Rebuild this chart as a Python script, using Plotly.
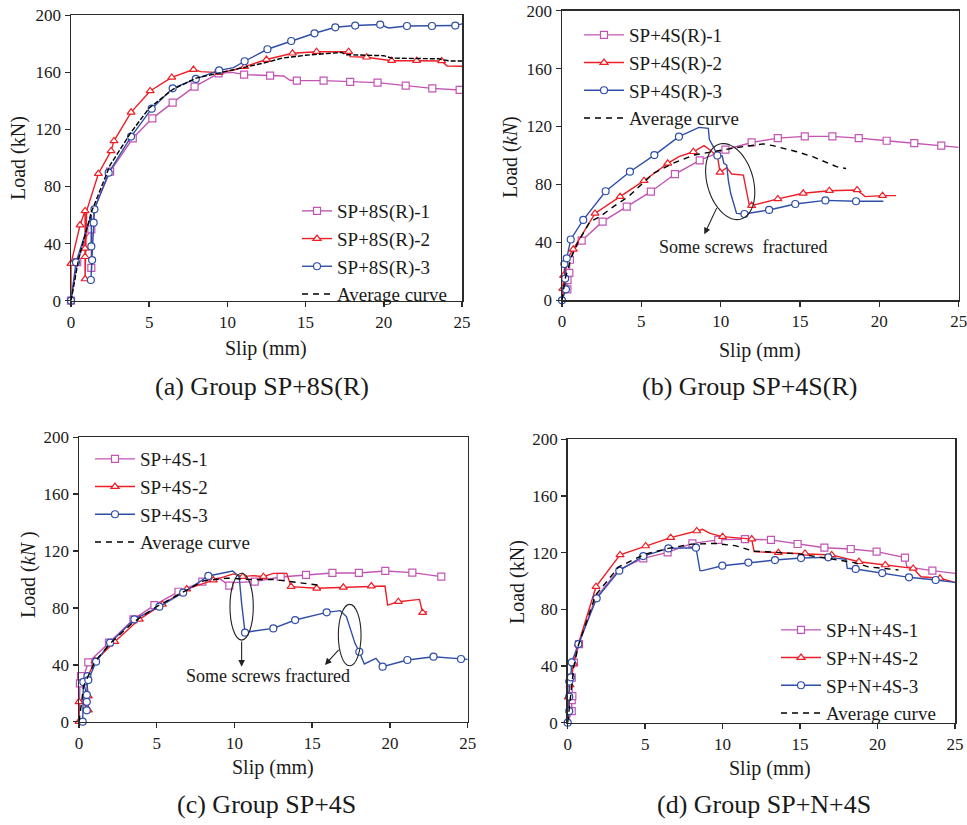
import numpy as np
import plotly.graph_objects as go

# ---------------- DATA ----------------
# Panel (a) Group SP+8S(R)
a1_x = [0, 0.4, 1.0, 1.3, 1.3, 1.35, 1.5, 2.5, 3.95, 5.2, 6.5, 7.9, 9.43, 10.3, 11.07, 12.73, 13.6, 14.0, 14.44, 16.15, 17.85, 19.6, 21.4, 23.1, 24.85]
a1_y = [0, 27, 45, 50, 23, 50, 65, 90.4, 113.8, 127.8, 138.8, 150, 159.3, 160, 158.4, 157.7, 157.5, 154.5, 154.2, 154.2, 153.3, 152.8, 150.7, 148.8, 147.7]
a2_x = [0, 0, 0.58, 0.9, 0.9, 0.9, 0.9, 0.95, 1.0, 1.75, 2.56, 2.75, 3.84, 5.06, 6.44, 7.83, 8.3, 9.47, 10.4, 11.1, 12.5, 14.16, 15.7, 17.75, 17.85, 18.9, 20.5, 22.1, 23.7, 24.04, 25]
a2_y = [0, 26, 53, 62.9, 36.7, 30.8, 15.2, 40, 63, 89, 105, 112, 132, 147, 156.5, 162, 160.5, 159.8, 161.7, 164, 169, 173.4, 174.5, 174.5, 171, 170.6, 168.2, 168.2, 168, 164.5, 164.3]
a3_x = [0, 0.32, 1.0, 1.3, 1.3, 1.35, 1.27, 1.4, 1.45, 1.5, 2.41, 3.84, 5.16, 6.5, 7.98, 9.47, 10.39, 11.1, 12.56, 14.08, 15.57, 16.9, 18.17, 19.77, 20.3, 21.48, 23.08, 24.57, 25]
a3_y = [0, 26.9, 50, 60, 38, 28.5, 14.5, 40, 54.7, 64, 89.7, 115, 134.6, 148.8, 155.4, 161.4, 163.3, 167.8, 176.2, 182, 187.4, 191.6, 192.8, 193.5, 191.1, 192.5, 192.5, 192.8, 194]
aavg_x = [0, 0.5, 1.0, 1.3, 2.5, 3.84, 5, 6.5, 8, 10, 11, 12.5, 13.5, 15, 17.3, 17.6, 20, 20.5, 23.5, 24.2, 25]
aavg_y = [0, 30, 50, 62, 95, 118, 135, 148, 156, 161, 163, 167, 170, 172, 174, 172.4, 171.7, 170, 169.5, 168, 168]

# Panel (b) Group SP+4S(R)
b1_x = [0, 0.2, 0.34, 0.35, 0.46, 0.5, 0.8, 1.24, 2.56, 4.08, 5.6, 7.12, 8.68, 10.3, 11.95, 13.6, 15.3, 17.04, 18.7, 20.46, 22.2, 23.9, 25]
b1_y = [0, 10, 7.6, 14, 19, 28, 36, 41.2, 54.3, 64.7, 75, 87.2, 96.7, 104, 109, 112, 113.2, 113.2, 112, 110.2, 108.6, 106.8, 105.6]
b2_x = [0, 0.05, 0.1, 0.2, 0.15, 0.3, 0.71, 2.08, 3.66, 5.17, 6.66, 7.37, 8.28, 8.95, 9.33, 9.8, 9.96, 10.38, 10.7, 11.43, 11.8, 11.95, 13.6, 15.2, 16.85, 18.6, 19.1, 20.2, 21.05]
b2_y = [0, 8, 17, 25, 10, 28, 35.2, 60, 71.6, 82.6, 94.6, 99.2, 102.6, 106.8, 103.8, 99.2, 88.4, 91.6, 87.2, 86.5, 65.8, 65.4, 70, 73.9, 75.7, 76.2, 71.6, 72.3, 72.3]
b3_x = [0, 0.25, 0.2, 0.15, 0.3, 0.55, 1.34, 2.75, 4.28, 5.82, 7.37, 8.63, 9.22, 9.29, 9.54, 9.79, 10.1, 10.2, 10.38, 10.48, 10.63, 11.0, 11.5, 13.05, 14.7, 16.6, 18.53, 20.25]
b3_y = [0, 7.6, 15, 25, 29, 42, 55.5, 75.3, 88.8, 100.3, 113, 119.4, 118.8, 111, 106, 100, 99.7, 94.6, 93.4, 83, 73.9, 60, 59.6, 62.4, 66.5, 69, 68.4, 68.4]
bavg_x = [0, 0.2, 0.6, 1.0, 1.76, 2.4, 3.24, 4.18, 5.76, 7.0, 8.3, 9.5, 11, 12.7, 13.3, 14.8, 15.8, 17.3, 17.9]
bavg_y = [0, 15, 30, 40, 54.3, 57.8, 64.7, 71.6, 87.7, 94.6, 100.3, 102.6, 105.5, 108, 106.8, 102.6, 99.2, 92.3, 91]

# Panel (c) Group SP+4S
c1_x = [0, 0.06, 0.13, 0.2, 0.3, 0.6, 1.93, 3.5, 4.85, 6.4, 7.93, 9.0, 9.67, 9.93, 11.3, 12.97, 14.6, 16.3, 18.0, 19.7, 21.44, 23.3]
c1_y = [0, 27, 32, 25, 32, 41.7, 55.6, 72, 82, 91.4, 98.5, 101, 95.7, 97.8, 98.5, 101.8, 103.2, 104.6, 104.6, 106, 104.8, 102]
c2_x = [0, 0, 0.13, 0.6, 0.6, 0.5, 0.7, 1.03, 2.3, 3.88, 5.36, 6.93, 8.64, 9.93, 10.53, 11.2, 11.86, 12.5, 13.36, 13.64, 15.29, 17.0, 18.8, 19.68, 19.85, 20.54, 21.9, 22.1, 22.4]
c2_y = [0, 14, 15, 8.2, 18, 28, 35, 42.7, 56.3, 72, 82.5, 93.3, 99.6, 103.9, 102, 102.7, 102, 104.3, 104.3, 95, 93.8, 94.5, 95.4, 95.4, 82, 84.4, 86, 76.7, 77.4]
c3_x = [0.24, 0.28, 0.5, 0.5, 0.5, 0.54, 0.6, 1.1, 2.0, 3.56, 5.17, 6.7, 8.32, 9.07, 9.88, 10.18, 10.3, 10.46, 10.68, 10.96, 12.5, 13.9, 15.93, 16.8, 17.2, 17.75, 18.03, 18.35, 19.1, 19.53, 21.12, 22.8, 24.57, 25]
c3_y = [0, 28, 18.8, 14, 8, 32, 29.3, 42.2, 55.6, 72, 80.9, 90.7, 102.5, 104.3, 106, 103.2, 102, 83.2, 62.6, 63.3, 65.6, 71.5, 76.9, 78.1, 73.9, 55.1, 49.2, 40.6, 44.5, 38.7, 43.4, 45.7, 44.1, 43.8]
cavg_x = [0, 0.3, 1, 2, 3.5, 5, 6.5, 8, 9.5, 11, 12.5, 14.86, 15.5]
cavg_y = [0, 25, 42, 55, 70, 81, 90, 99, 101, 100, 100, 96.8, 95.9]

# Panel (d) Group SP+N+4S
d1_x = [0, 0.26, 0.26, 0.3, 0.26, 0.4, 0.73, 1.8, 3.3, 4.88, 6.45, 8.05, 9.72, 11.44, 13.12, 14.84, 16.57, 18.27, 19.94, 21.77, 21.9, 23.54, 25]
d1_y = [0, 8.2, 16, 18.8, 31.8, 42.4, 55.5, 88, 108, 116, 120.2, 126.6, 129, 129.6, 129, 126.1, 123.5, 122.6, 120.7, 116.5, 110, 107.3, 105.4]
d2_x = [0, 0.04, 0.15, 0.37, 0.69, 1.83, 3.38, 5.03, 6.65, 8.33, 8.7, 9.19, 10.0, 11.34, 11.88, 12.03, 13.6, 15.32, 17.04, 18.8, 20.5, 22.3, 22.8, 24.03, 25]
d2_y = [0, 18, 26.6, 41.9, 55.5, 96, 118.4, 124.7, 130.6, 135.3, 136.5, 133.6, 131.3, 130.1, 129.6, 120.7, 120, 119.5, 118.4, 113.6, 111.3, 108.9, 103, 101.9, 99]
d3_x = [0, 0.1, 0.1, 0.1, 0.2, 0.26, 0.69, 1.87, 3.33, 4.88, 6.5, 8.28, 8.54, 8.71, 9.98, 11.66, 13.38, 15.06, 16.82, 17.96, 18.05, 18.59, 20.3, 22.03, 23.75, 25]
d3_y = [0, 8.2, 18.4, 29, 32, 42.6, 55.5, 87.8, 107.3, 117.6, 123, 123.5, 107.3, 107.3, 110.8, 113, 114.8, 116.2, 116.7, 115.3, 109, 108.5, 105.6, 102.6, 100.7, 99]
davg_x = [0, 0.4, 0.7, 1.8, 3.3, 5, 6.5, 8, 9.5, 10.8, 12, 13.06, 15, 16.07, 18.5, 19.4, 21.35]
davg_y = [0, 40, 55, 90, 110, 119, 123, 126, 126.5, 125, 121, 120.5, 119, 117, 113, 110, 107.8]

x_ticks = [0, 5, 10, 15, 20, 25]
y_ticks = [0, 40, 80, 120, 160, 200]

# ---------------- STYLE ----------------
# which points carry a marker (1) and which are plain line vertices (0)
MARKS = {
    'a1': [1,1,0,1,1,0,0,1,1,1,1,1,1,0,1,1,0,0,1,1,1,1,1,1,1],
    'a2': [0,1,1,1,1,1,1,0,0,1,1,1,1,1,1,1,0,1,0,1,1,1,1,1,0,1,1,1,1,0,0],
    'a3': [1,1,0,0,1,1,1,0,1,1,1,1,1,1,1,1,0,1,1,1,1,1,1,1,0,1,1,1,0],
    'b1': [0,0,1,1,1,1,0,1,1,1,1,1,1,1,1,1,1,1,1,1,1,1,0],
    'b2': [0,1,1,0,0,0,1,1,1,1,1,0,1,0,0,0,1,0,0,0,0,1,1,1,1,1,0,1,0],
    'b3': [1,1,1,1,1,1,1,1,1,1,1,0,0,0,0,1,0,0,0,0,0,0,1,1,1,1,1,0],
    'c1': [0,1,1,0,0,1,1,1,1,1,1,0,1,0,1,1,1,1,1,1,1,1],
    'c2': [1,1,0,1,1,0,0,1,1,1,1,1,1,0,1,0,1,0,0,1,1,1,1,0,0,1,0,1,0],
    'c3': [1,1,1,1,1,1,1,1,1,1,1,1,1,0,0,0,0,0,1,0,1,1,1,0,0,0,1,0,0,1,1,1,1,0],
    'd1': [0,1,1,1,1,1,1,0,0,1,1,1,1,1,1,1,1,1,1,1,0,1,0],
    'd2': [0,1,1,1,1,1,1,1,1,1,0,0,1,0,1,0,1,1,1,1,1,1,0,1,0],
    'd3': [1,1,1,1,1,1,1,1,1,1,1,1,0,0,1,1,1,1,1,0,0,1,1,1,1,0],
}

W, H = 967, 825
FONT = "Liberation Serif, Times New Roman, serif"
TXT = "#1a1a1a"
AX = "#2b2b2b"
MAG = "#C255B4"
RED = "#EE1D26"
BLU = "#2F4EA8"

def px(x):
    return x / W

def py(y):
    return 1 - y / H

# panel pixel boxes: (left, right, top, bottom)
BOX = {1: (71, 462, 15.3, 300.7), 2: (562, 958.7, 10.7, 300.3),
       3: (79, 467.7, 437.3, 721.7), 4: (567.7, 955, 439.3, 722.7)}

fig = go.Figure()

def axn(i):
    return ('x', 'y') if i == 1 else (f'x{i}', f'y{i}')

def add_series(i, key, x, y, color, symbol, name, legend):
    assert len(x) == len(y) == len(MARKS[key]), key
    xa, ya = axn(i)
    fig.add_trace(go.Scatter(x=x, y=y, mode='lines', line=dict(color=color, width=1.4),
                             xaxis=xa, yaxis=ya, showlegend=False, cliponaxis=False, hoverinfo='skip'))
    mx = [a for a, m in zip(x, MARKS[key]) if m]
    my = [b for b, m in zip(y, MARKS[key]) if m]
    mk = dict(symbol=symbol, size=7, color='white', line=dict(color=color, width=1.2))
    fig.add_trace(go.Scatter(x=mx, y=my, mode='markers', marker=mk, xaxis=xa, yaxis=ya,
                             showlegend=False, cliponaxis=False, hoverinfo='skip'))
    fig.add_trace(go.Scatter(x=[None], y=[None], mode='lines+markers', name=name,
                             line=dict(color=color, width=1.4), marker=mk,
                             xaxis=xa, yaxis=ya, legend=legend))

def add_avg(i, x, y, legend, dash_plot):
    xa, ya = axn(i)
    fig.add_trace(go.Scatter(x=x, y=y, mode='lines', line=dict(color='black', width=1.4, dash=dash_plot),
                             xaxis=xa, yaxis=ya, showlegend=False, cliponaxis=False, hoverinfo='skip'))
    fig.add_trace(go.Scatter(x=[None], y=[None], mode='lines', name='Average curve',
                             line=dict(color='black', width=1.4, dash='6px,5px'),
                             xaxis=xa, yaxis=ya, legend=legend))

add_series(1, 'a1', a1_x, a1_y, MAG, 'square', 'SP+8S(R)-1', 'legend')
add_series(1, 'a2', a2_x, a2_y, RED, 'triangle-up', 'SP+8S(R)-2', 'legend')
add_series(1, 'a3', a3_x, a3_y, BLU, 'circle', 'SP+8S(R)-3', 'legend')
add_avg(1, aavg_x, aavg_y, 'legend', '5px,2px')

add_series(2, 'b1', b1_x, b1_y, MAG, 'square', 'SP+4S(R)-1', 'legend2')
add_series(2, 'b2', b2_x, b2_y, RED, 'triangle-up', 'SP+4S(R)-2', 'legend2')
add_series(2, 'b3', b3_x, b3_y, BLU, 'circle', 'SP+4S(R)-3', 'legend2')
add_avg(2, bavg_x, bavg_y, 'legend2', '6px,5px')

add_series(3, 'c1', c1_x, c1_y, MAG, 'square', 'SP+4S-1', 'legend3')
add_series(3, 'c2', c2_x, c2_y, RED, 'triangle-up', 'SP+4S-2', 'legend3')
add_series(3, 'c3', c3_x, c3_y, BLU, 'circle', 'SP+4S-3', 'legend3')
add_avg(3, cavg_x, cavg_y, 'legend3', '6px,5px')

add_series(4, 'd1', d1_x, d1_y, MAG, 'square', 'SP+N+4S-1', 'legend4')
add_series(4, 'd2', d2_x, d2_y, RED, 'triangle-up', 'SP+N+4S-2', 'legend4')
add_series(4, 'd3', d3_x, d3_y, BLU, 'circle', 'SP+N+4S-3', 'legend4')
add_avg(4, davg_x, davg_y, 'legend4', '6px,5px')

layout = dict(template='none', width=W, height=H, margin=dict(l=0, r=0, t=0, b=0, pad=0, autoexpand=False),
              paper_bgcolor='white', plot_bgcolor='white',
              font=dict(family=FONT, color=TXT, size=17), showlegend=True)

for i, (l, r, t, b) in BOX.items():
    sfx = '' if i == 1 else str(i)
    common = dict(showline=True, linecolor=AX, linewidth=1.5, mirror=True, ticks='outside',
                  ticklen=5, tickwidth=1.5, tickcolor=AX, showgrid=False, zeroline=False,
                  automargin=False, ticklabeloverflow='allow',
                  tickfont=dict(family=FONT, size=17, color=TXT))
    layout['xaxis' + sfx] = dict(domain=[px(l), px(r)], range=[0, 25], tickvals=x_ticks,
                                 anchor='y' + sfx, **common)
    layout['yaxis' + sfx] = dict(domain=[py(b), py(t)], range=[0, 200], tickvals=y_ticks,
                                 anchor='x' + sfx, **common)

def leg(xp, yp, iw):
    return dict(x=px(xp), y=py(yp), xanchor='left', yanchor='top', bgcolor='rgba(0,0,0,0)',
                font=dict(family=FONT, size=19, color=TXT), itemwidth=iw, tracegroupgap=0)

layout['legend'] = leg(297, 192, 30)
layout['legend2'] = leg(579, 16, 40)
layout['legend3'] = leg(90, 440, 40)
layout['legend4'] = leg(776, 611, 40)

fig.update_layout(**layout)

ann = []
def txt(text, xp_, yp_, size, angle=0):
    ann.append(dict(text=text, x=px(xp_), y=py(yp_), xref='paper', yref='paper', showarrow=False,
                    xanchor='center', yanchor='middle', textangle=angle,
                    font=dict(family=FONT, size=size, color=TXT)))

# captions
txt('(a) Group SP+8S(R)', 262, 386, 26)
txt('(b) Group SP+4S(R)', 749, 386, 26)
txt('(c) Group SP+4S', 266, 804, 26)
txt('(d) Group SP+N+4S', 764, 804, 26)
# axis titles
txt('Slip (mm)', 266, 348, 20)
txt('Slip (mm)', 760, 350, 20)
txt('Slip (mm)', 273, 767, 20)
txt('Slip (mm)', 770, 768, 20)
txt('Load (kN)', 18, 158, 20, -90)
txt('Load (<i>kN</i>)', 510, 157, 20, -90)
txt('Load (<i>kN </i>)', 28, 575, 20, -90)
txt('Load (kN)', 517, 582, 20, -90)
# notes
txt('Some screws  fractured', 743, 247, 18)
txt('Some screws fractured', 268, 676, 18)

def arrow(i, tail, head):
    xa, ya = axn(i)
    ann.append(dict(x=head[0], y=head[1], ax=tail[0], ay=tail[1], xref=xa, yref=ya,
                    axref=xa, ayref=ya, text='', showarrow=True, arrowhead=2, arrowsize=1.2,
                    arrowwidth=1.1, arrowcolor='#222'))

arrow(2, (9.79, 64.7), (8.97, 45.6))
arrow(3, (10.46, 57.4), (10.46, 38.7))
arrow(3, (16.79, 51.6), (15.82, 39.9))
fig.update_layout(annotations=ann)

# ellipses marking screw fracture
shapes = []
def ellipse_upright(i, cx, cy, rx, ry):
    xa, ya = axn(i)
    shapes.append(dict(type='circle', xref=xa, yref=ya, x0=cx - rx, x1=cx + rx, y0=cy - ry, y1=cy + ry,
                       line=dict(color='#222', width=1.1)))

ellipse_upright(3, 10.46, 80.9, 0.75, 23.5)
ellipse_upright(3, 17.41, 60.9, 0.73, 21.6)

# tilted ellipse in panel (b): built in pixel space, converted to data
l, r, t, b = BOX[2]
sx = (r - l) / 25.0
sy = (b - t) / 200.0
cxp, cyp = 10.6, 82.0
a_px, b_px, ang = 39.0, 23.0, np.deg2rad(16)
tt = np.linspace(0, 2 * np.pi, 80)
ex = b_px * np.cos(tt)
ey = a_px * np.sin(tt)
rx_ = ex * np.cos(ang) - ey * np.sin(ang)
ry_ = ex * np.sin(ang) + ey * np.cos(ang)
xs = cxp + rx_ / sx
ys = cyp + ry_ / sy
path = 'M ' + ' L '.join(f'{u:.4f},{v:.4f}' for u, v in zip(xs, ys)) + ' Z'
shapes.append(dict(type='path', xref='x2', yref='y2', path=path, line=dict(color='#222', width=1.1)))
fig.update_layout(shapes=shapes)

fig.write_html('out.html', config={'displayModeBar': False, 'staticPlot': True},
               post_script="document.body.style.margin='0px';document.body.style.padding='0px';"
                           "document.documentElement.style.overflow='hidden';")
